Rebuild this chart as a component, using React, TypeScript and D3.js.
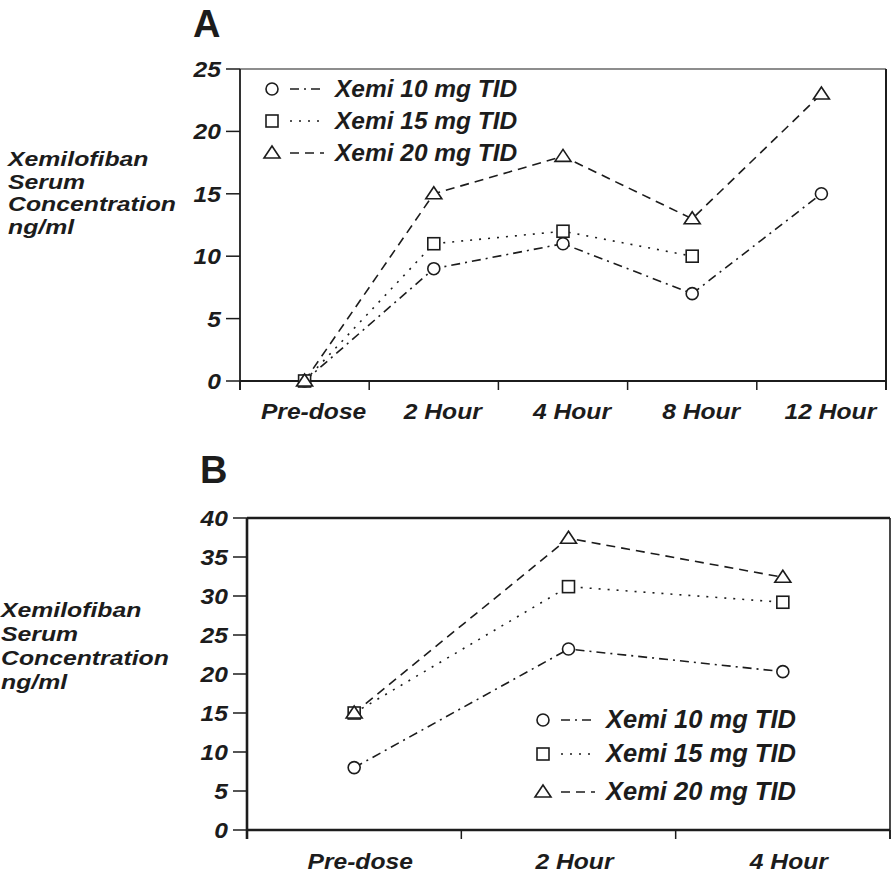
import React from "react";
import * as d3 from "d3";

const categoriesA = ["Pre-dose", "2 Hour", "4 Hour", "8 Hour", "12 Hour"];
const a10 = [0, 9, 11, 7, 15];
const a15: (number | null)[] = [0, 11, 12, 10, null];
const a20 = [0, 15, 18, 13, 23];
const ticksA = [0, 5, 10, 15, 20, 25];

const categoriesB = ["Pre-dose", "2 Hour", "4 Hour"];
const b10 = [8, 23.2, 20.3];
const b15 = [15, 31.2, 29.2];
const b20 = [15, 37.4, 32.4];
const ticksB = [0, 5, 10, 15, 20, 25, 30, 35, 40];

const seriesNames = ["Xemi 10 mg TID", "Xemi 15 mg TID", "Xemi 20 mg TID"];
const axisTitleLines = ["Xemilofiban", "Serum", "Concentration", "ng/ml"];

const INK = "#1c1c1c";
const FONT = "'Liberation Sans', Arial, Helvetica, sans-serif";
const DASH = ["9,5,2,5", "2,7", "9,6"];
const SHAPES = ["circle", "square", "triangle"];

function SText({ x, y, children, anchor = "start", size = 22, sx = 1.12, italic = true }: any) {
  return (
    <text
      transform={`translate(${x},${y}) scale(${sx},1)`}
      textAnchor={anchor}
      fontFamily={FONT}
      fontWeight="bold"
      fontStyle={italic ? "italic" : "normal"}
      fontSize={size}
      fill={INK}
    >
      {children}
    </text>
  );
}

function Marker({ shape, x, y }: any) {
  const common = { fill: "white", stroke: INK, strokeWidth: 1.6 };
  if (shape === "circle") return <circle cx={x} cy={y} r={6} {...common} />;
  if (shape === "square") return <rect x={x - 6} y={y - 6} width={12} height={12} {...common} />;
  return <polygon points={`${x},${y - 7} ${x + 8},${y + 5} ${x - 8},${y + 5}`} {...common} />;
}

function Panel({ cats, series, ticks, yMax, left, right, top, bottom, axisW, labelY, labelDx,
  titleX, titleYs, titleSize, titleSx, legend, letter, letterY, frameTopW, frameRightW }: any) {
  const x = d3.scaleBand<string>().domain(cats).range([left, right]);
  const y = d3.scaleLinear().domain([0, yMax]).range([bottom, top]);
  const bounds = cats.map((_: string, i: number) => x(cats[i])!).concat([right]);
  const cx = (c: string) => x(c)! + x.bandwidth() / 2;
  const line = d3
    .line<number | null>()
    .defined((d) => d !== null)
    .x((_, i) => cx(cats[i]))
    .y((d) => y(d as number));
  return (
    <g>
      <text x={left - 47} y={letterY} fontFamily={FONT} fontWeight="bold" fontSize={38} fill={INK}>
        {letter}
      </text>
      {axisTitleLines.map((t, i) => (
        <SText key={t} x={titleX} y={titleYs[i]} size={titleSize} sx={titleSx}>
          {t}
        </SText>
      ))}
      {/* frame */}
      <line x1={left} x2={right} y1={top} y2={top} stroke={INK} strokeWidth={frameTopW} />
      <line x1={right} x2={right} y1={top} y2={bottom + 9} stroke={INK} strokeWidth={frameRightW} />
      <line x1={left} x2={left} y1={top} y2={bottom + 9} stroke={INK} strokeWidth={axisW} />
      <line x1={left} x2={right} y1={bottom} y2={bottom} stroke={INK} strokeWidth={axisW} />
      {ticks.map((t: number) => (
        <g key={t}>
          <line x1={left - 14} x2={left} y1={y(t)} y2={y(t)} stroke={INK} strokeWidth={1.5} />
          <SText x={left - 19} y={y(t) + 8} anchor="end" size={22}>
            {t}
          </SText>
        </g>
      ))}
      {bounds.map((b: number, i: number) => (
        <line key={i} x1={b} x2={b} y1={bottom} y2={bottom + 9} stroke={INK} strokeWidth={1.5} />
      ))}
      {cats.map((c: string) => (
        <SText key={c} x={cx(c) + labelDx} y={labelY} anchor="middle" size={22}>
          {c}
        </SText>
      ))}
      {series.map((s: (number | null)[], k: number) => (
        <path key={k} d={line(s) || ""} fill="none" stroke={INK} strokeWidth={1.6} strokeDasharray={DASH[k]} />
      ))}
      {series.map((s: (number | null)[], k: number) =>
        s.map((v, i) =>
          v === null ? null : <Marker key={k + "-" + i} shape={SHAPES[k]} x={cx(cats[i])} y={y(v)} />
        )
      )}
      {seriesNames.map((n, k) => (
        <g key={n}>
          <Marker shape={SHAPES[k]} x={legend.x} y={legend.ys[k] - 8} />
          <line x1={legend.x + 18} x2={legend.x + 52} y1={legend.ys[k] - 8} y2={legend.ys[k] - 8}
            stroke={INK} strokeWidth={1.6} strokeDasharray={DASH[k]} />
          <SText x={legend.x + 63} y={legend.ys[k]} size={legend.size} sx={1.02}>
            {n}
          </SText>
        </g>
      ))}
    </g>
  );
}

export default function App() {
  return (
    <svg width={892} height={875} style={{ position: "absolute", left: 0, top: 0, background: "white" }}>
      <rect width={892} height={875} fill="white" />
      <Panel
        cats={categoriesA}
        series={[a10, a15, a20]}
        ticks={ticksA}
        yMax={25}
        left={240}
        right={886}
        top={69}
        bottom={381}
        axisW={1.8}
        labelY={419}
        labelDx={9}
        titleX={8}
        titleYs={[166, 188.5, 211, 233.5]}
        titleSize={20}
        titleSx={1.24}
        legend={{ x: 272, ys: [97, 129, 161], size: 24 }}
        letter="A"
        letterY={37}
        frameTopW={1.2}
        frameRightW={2}
      />
      <Panel
        cats={categoriesB}
        series={[b10, b15, b20]}
        ticks={ticksB}
        yMax={40}
        left={247}
        right={890}
        top={518}
        bottom={830}
        axisW={2.6}
        labelY={869}
        labelDx={6}
        titleX={1}
        titleYs={[617, 641, 665, 689]}
        titleSize={21}
        titleSx={1.18}
        legend={{ x: 543, ys: [728, 762, 800], size: 25 }}
        letter="B"
        letterY={483}
        frameTopW={2.4}
        frameRightW={1.6}
      />
    </svg>
  );
}
